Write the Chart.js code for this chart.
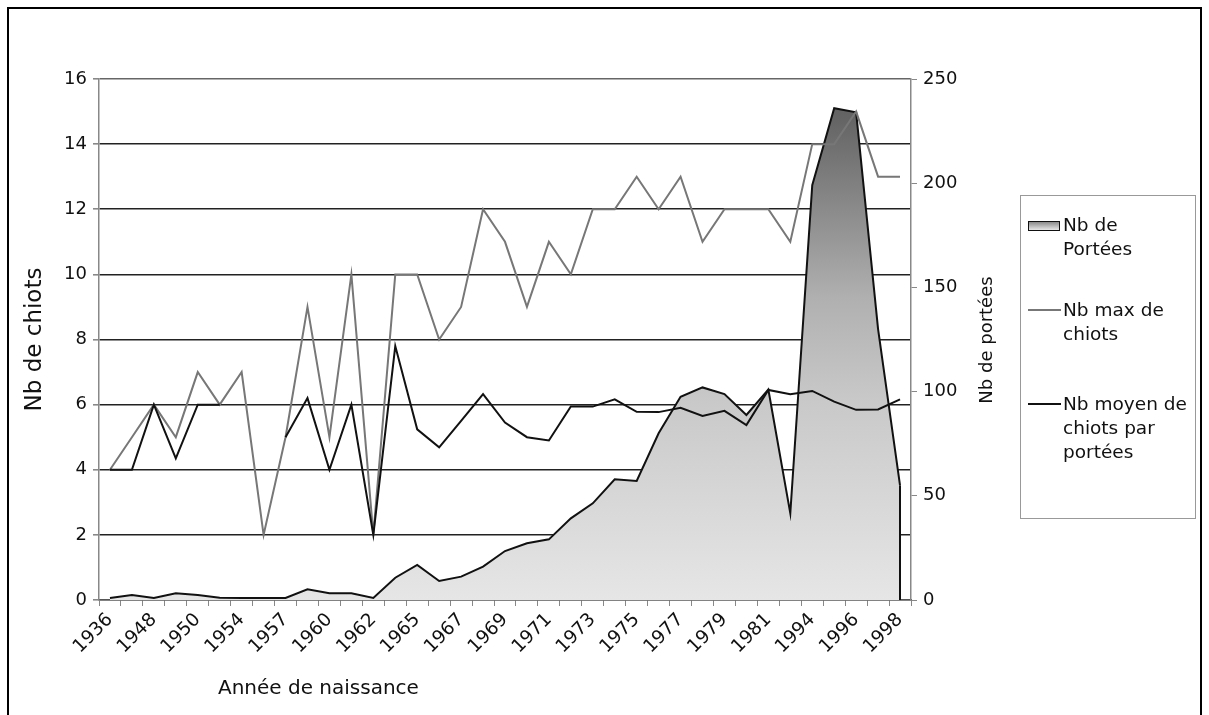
<!DOCTYPE html>
<html>
<head>
<meta charset="utf-8">
<script src="https://cdn.jsdelivr.net/npm/chart.js@4.4.1/dist/chart.umd.min.js"></script>
<style>
html,body{margin:0;padding:0;background:#fff;}
#wrap{position:relative;width:1209px;height:715px;overflow:hidden;font-family:"DejaVu Sans",sans-serif;color:#111;}
#c{position:absolute;left:0;top:0;}
#frame{position:absolute;left:7px;top:7px;width:1191px;height:760px;border:2px solid #000;}
#xtitle{position:absolute;left:218px;top:675px;font-size:20px;white-space:nowrap;}
#rtitle{position:absolute;left:985px;top:340px;font-size:18px;white-space:nowrap;transform:translate(-50%,-50%) rotate(-90deg);}
#legend{position:absolute;left:1020px;top:195px;width:174px;height:322px;border:1px solid #999;background:#fff;}
.item{position:absolute;left:7px;}
.txt{position:absolute;left:35px;top:0;font-size:18.5px;line-height:24px;white-space:nowrap;}
.sw{position:absolute;left:0;top:8px;width:30px;height:8px;border:1.5px solid #111;background:linear-gradient(#8a8a8a,#e6e6e6);}
.ln{position:absolute;left:0;top:11px;width:33px;height:0;}
</style>
</head>
<body>
<div id="wrap">
<canvas id="c" width="1209" height="715"></canvas>
<div id="frame"></div>
<div id="xtitle">Année de naissance</div>
<div id="rtitle">Nb de portées</div>
<div id="legend">
  <div class="item" style="top:17px;"><div class="sw"></div><div class="txt">Nb de<br>Portées</div></div>
  <div class="item" style="top:102px;"><div class="ln" style="border-top:2px solid #777;"></div><div class="txt">Nb max de<br>chiots</div></div>
  <div class="item" style="top:196px;"><div class="ln" style="border-top:2px solid #111;"></div><div class="txt">Nb moyen de<br>chiots par<br>portées</div></div>
</div>
</div>
<script>
// Categories (birth years); only every other one is labelled on the axis
const annees = ['1936','1947','1948','1949','1950','1953','1954','1956','1957','1959',
  '1960','1961','1962','1964','1965','1966','1967','1968','1969','1970',
  '1971','1972','1973','1974','1975','1976','1977','1978','1979','1980',
  '1981','1982','1994','1995','1996','1997','1998'];

// Nb de Portées (right axis)
const nbPortees = [1,2.4,1,3.2,2.4,1.1,1,1,1,5.1,
  3.2,3.2,1,10.7,16.8,9.1,11.2,16,23.5,27.2,
  29.1,39.2,46.4,57.9,57.1,80,97.5,102,98.8,88.8,
  101,41.6,199,236,234,130,55];

// Nb max de chiots (left axis)
const nbMaxChiots = [4,5,6,5,7,6,7,2,5,9,
  5,10,2,10,10,8,9,12,11,9,
  11,10,12,12,13,12,13,11,12,12,
  12,11,14,14,15,13,13];

// Nb moyen de chiots par portées (left axis)
const nbMoyenChiots = [4,4,6,4.35,6,6,null,null,5,6.2,
  4,6,2,7.8,5.24,4.69,5.5,6.32,5.45,5.0,
  4.9,5.94,5.94,6.16,5.78,5.77,5.9,5.65,5.81,5.37,
  6.45,6.32,6.42,6.09,5.84,5.85,6.16];

// Tick values
const ticksGauche = {min:0, max:16, step:2};
const ticksDroite = {min:0, max:250, step:50};

const FONT = '"DejaVu Sans", sans-serif';

function areaFill(ctx){
  const chart = ctx.chart;
  const a = chart.chartArea;
  if(!a) return '#cccccc';
  const g = chart.ctx.createLinearGradient(0, a.top, 0, a.bottom);
  g.addColorStop(0.0, '#5c5c5c');
  g.addColorStop(0.08, '#656565');
  g.addColorStop(0.42, '#b0b0b0');
  g.addColorStop(0.62, '#c9c9c9');
  g.addColorStop(1.0, '#e6e6e6');
  return g;
}

const edgePlugin = {
  id:'edge',
  afterDatasetsDraw(chart){
    const meta = chart.getDatasetMeta(2);
    const pts = meta.data;
    if(!pts.length) return;
    const last = pts[pts.length-1];
    const y0 = chart.scales.yR.getPixelForValue(0);
    const c = chart.ctx;
    c.save();
    c.strokeStyle = '#111';
    c.lineWidth = 2;
    c.beginPath();
    c.moveTo(last.x, last.y);
    c.lineTo(last.x, y0);
    c.stroke();
    c.restore();
  }
};

new Chart(document.getElementById('c'), {
  type:'line',
  data:{
    labels: annees,
    datasets:[
      {label:'Nb moyen de chiots par portées', data:nbMoyenChiots, yAxisID:'yL',
       borderColor:'#111', borderWidth:2, pointRadius:0, tension:0, fill:false, spanGaps:false, order:1},
      {label:'Nb max de chiots', data:nbMaxChiots, yAxisID:'yL',
       borderColor:'#777', borderWidth:2, pointRadius:0, tension:0, fill:false, order:2},
      {label:'Nb de Portées', data:nbPortees, yAxisID:'yR',
       borderColor:'#111', borderWidth:2, pointRadius:0, tension:0, fill:'origin',
       backgroundColor:areaFill, order:3}
    ]
  },
  options:{
    responsive:false,
    devicePixelRatio:1,
    animation:false,
    layout:{padding:{left:0, top:79, right:209, bottom:0}},
    plugins:{legend:{display:false}, tooltip:{enabled:false}},
    scales:{
      x:{
        type:'category', offset:true,
        grid:{display:true, offset:true, drawOnChartArea:false, drawTicks:true, tickLength:6, color:'#888', lineWidth:1},
        border:{display:true, color:'#555', width:1.5},
        ticks:{autoSkip:false, maxRotation:45, minRotation:45, color:'#111', padding:3,
          font:{size:18.5, family:FONT},
          callback:function(v,i){ return i%2===0 ? this.getLabelForValue(v) : ''; }},
        afterFit(s){ s.height = 115; }
      },
      yL:{
        position:'left', min:ticksGauche.min, max:ticksGauche.max,
        ticks:{stepSize:ticksGauche.step, color:'#111', padding:6, font:{size:18, family:FONT}},
        grid:{color:(c)=> (c.tick && (c.tick.value===16 || c.tick.value===0)) ? '#666' : '#222',
              lineWidth:1.6, drawTicks:true, tickLength:6, tickColor:'#888'},
        border:{display:true, color:'#888', width:1.5},
        title:{display:true, text:'Nb de chiots', color:'#111', font:{size:23, family:FONT}, padding:{top:21,bottom:0}},
        afterFit(s){ s.width = 99; }
      },
      yR:{
        position:'right', min:ticksDroite.min, max:ticksDroite.max,
        ticks:{stepSize:ticksDroite.step, color:'#111', padding:6, font:{size:18, family:FONT}},
        grid:{drawOnChartArea:false, drawTicks:true, tickLength:6, tickColor:'#888', color:'#888'},
        border:{display:true, color:'#888', width:1.5},
        afterFit(s){ s.width = 89; }
      }
    }
  },
  plugins:[edgePlugin]
});
</script>
</body>
</html>
